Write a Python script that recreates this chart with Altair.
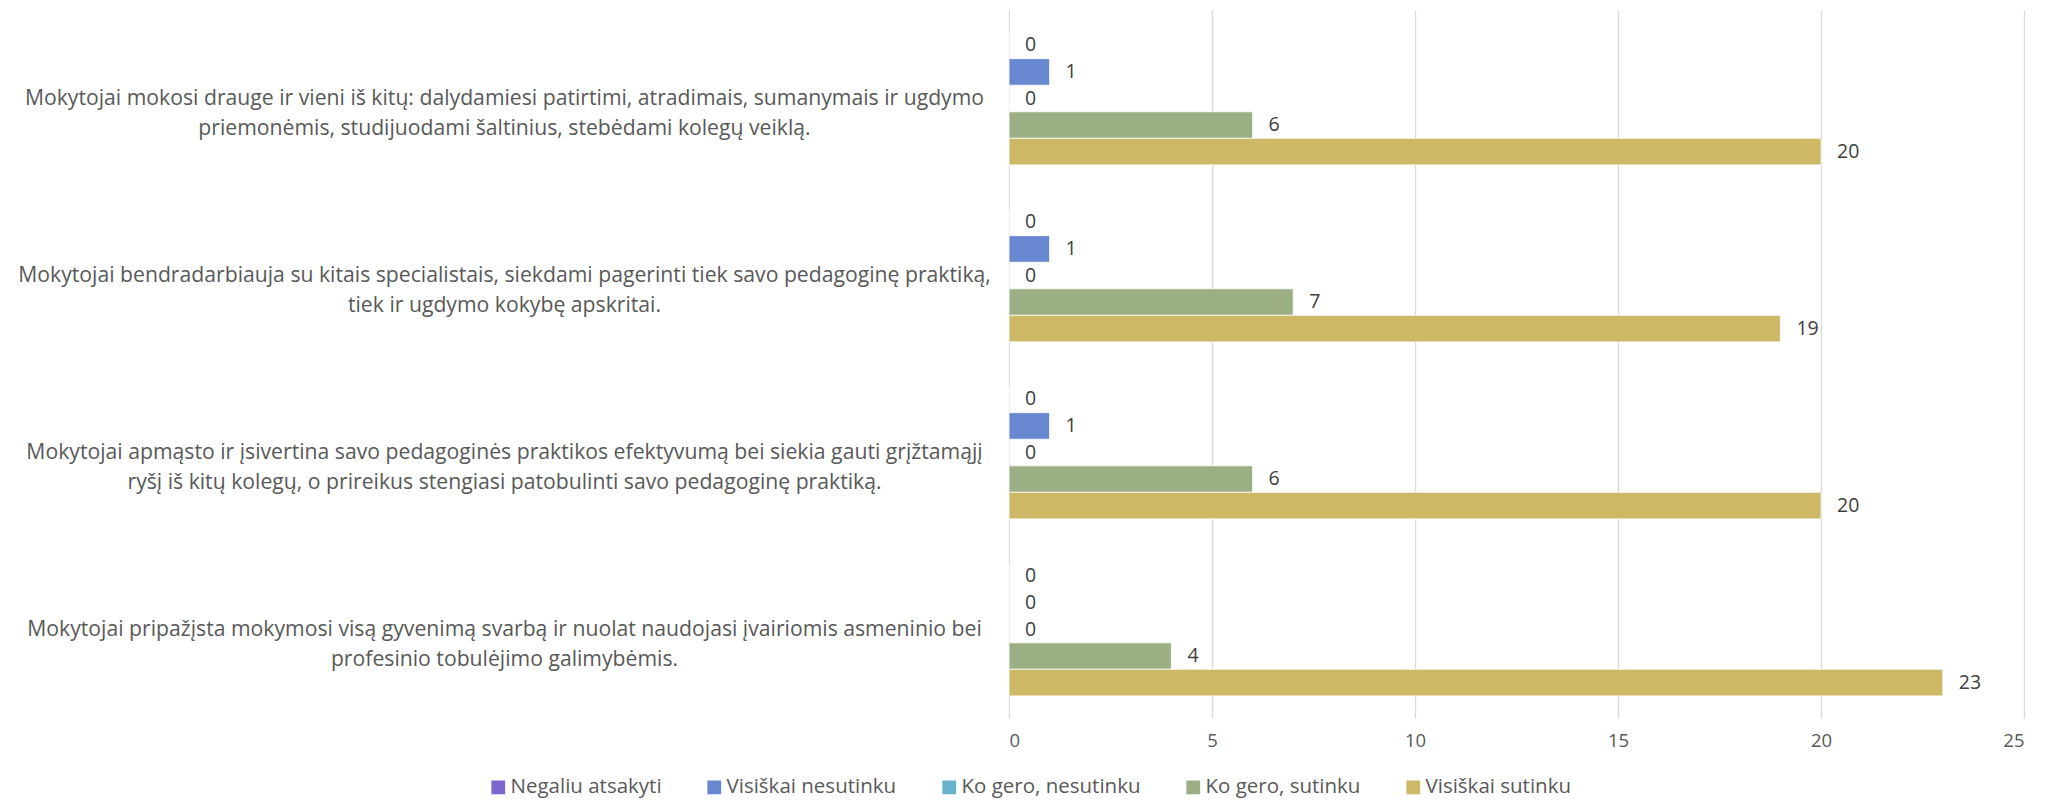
import altair as alt
import pandas as pd

categories = [
    "Mokytojai mokosi drauge ir vieni iš kitų: dalydamiesi patirtimi, atradimais, sumanymais ir ugdymo|priemonėmis, studijuodami šaltinius, stebėdami kolegų veiklą.",
    "Mokytojai bendradarbiauja su kitais specialistais, siekdami pagerinti tiek savo pedagoginę praktiką,|tiek ir ugdymo kokybę apskritai.",
    "Mokytojai apmąsto ir įsivertina savo pedagoginės praktikos efektyvumą bei siekia gauti grįžtamąjį|ryšį iš kitų kolegų, o prireikus stengiasi patobulinti savo pedagoginę praktiką.",
    "Mokytojai pripažįsta mokymosi visą gyvenimą svarbą ir nuolat naudojasi įvairiomis asmeninio bei|profesinio tobulėjimo galimybėmis.",
]
responses = ["Negaliu atsakyti", "Visiškai nesutinku", "Ko gero, nesutinku", "Ko gero, sutinku", "Visiškai sutinku"]
colors = ["#7d66d0", "#6787d0", "#68b3cc", "#9caf84", "#cdb866"]

negaliu = [0, 0, 0, 0]
visiskai_nesutinku = [1, 1, 1, 0]
ko_gero_nesutinku = [0, 0, 0, 0]
ko_gero_sutinku = [6, 7, 6, 4]
visiskai_sutinku = [20, 19, 20, 23]
x_ticks = [0, 5, 10, 15, 20, 25]

series = [negaliu, visiskai_nesutinku, ko_gero_nesutinku, ko_gero_sutinku, visiskai_sutinku]
rows = []
for r, vals in zip(responses, series):
    for c, v in zip(categories, vals):
        rows.append({"category": c, "response": r, "value": v})
df = pd.DataFrame(rows)

FONT = "Open Sans"

y_enc = alt.Y(
    "category:N",
    sort=categories,
    scale=alt.Scale(paddingInner=0.25, paddingOuter=0.125),
    axis=alt.Axis(
        title=None,
        labelExpr="split(datum.label, '|')",
        labelAlign="center",
        labelBaseline="middle",
        labelPadding=505,
        labelLimit=2000,
        labelFont=FONT,
        labelFontSize=21.2,
        labelLineHeight=30,
        labelColor="#595959",
        ticks=False,
        domain=False,
        grid=False,
    ),
)
yoff = alt.YOffset("response:N", sort=responses, scale=alt.Scale(paddingInner=0, paddingOuter=0))
x_enc = alt.X(
    "value:Q",
    scale=alt.Scale(domain=[0, 25], nice=False),
    axis=alt.Axis(
        title=None,
        values=x_ticks,
        labelFont=FONT,
        labelFontSize=18.5,
        labelColor="#595959",
        labelPadding=13,
        ticks=False,
        domain=False,
        grid=True,
        gridColor="#d9d9d9",
        gridWidth=1.3,
    ),
)

bars = alt.Chart(df).mark_bar(stroke="white", strokeWidth=0.8).encode(
    x=x_enc,
    y=y_enc,
    yOffset=yoff,
    color=alt.Color(
        "response:N",
        sort=responses,
        scale=alt.Scale(domain=responses, range=colors),
        legend=alt.Legend(
            title=None,
            orient="none",
            direction="horizontal",
            legendX=-521,
            legendY=767,
            symbolType="square",
            symbolSize=190,
            symbolStrokeWidth=0,
            labelFont=FONT,
            labelFontSize=20.5,
            labelColor="#595959",
            labelOffset=2,
            labelLimit=500,
            columnPadding=42,
            padding=0,
        ),
    ),
)

labels = alt.Chart(df).mark_text(
    align="left", baseline="middle", dx=16, font=FONT, fontSize=19.5, color="#404040"
).encode(
    x="value:Q",
    y=alt.Y("category:N", sort=categories),
    yOffset=yoff,
    text="value:Q",
)

chart = (
    alt.layer(bars, labels)
    .properties(width=1015, height=708, padding={"left": 9, "top": 2, "right": 5, "bottom": 3})
    .configure_view(stroke=None)
)

chart.save("out.html", embed_options={"renderer": "svg", "actions": False})
